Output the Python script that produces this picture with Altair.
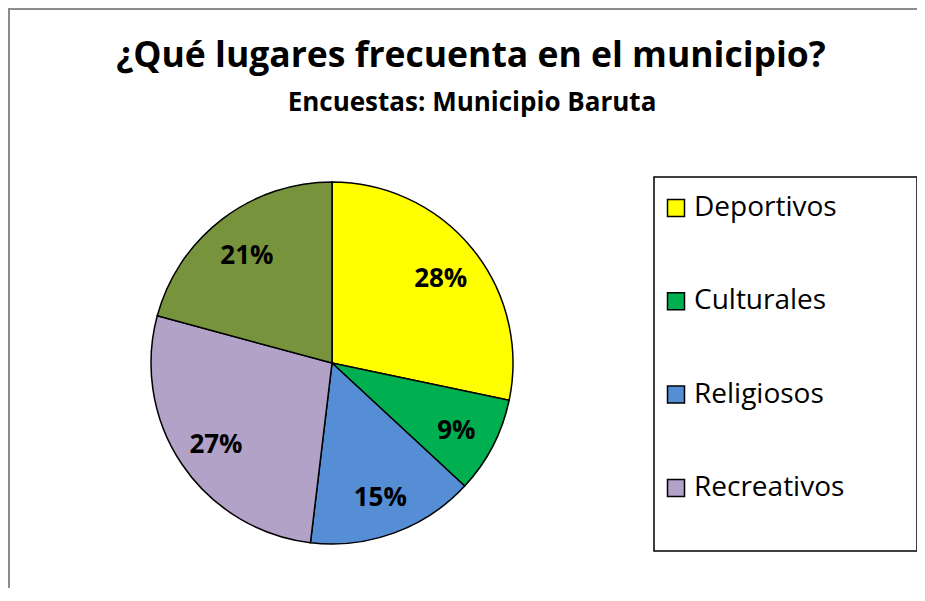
import altair as alt
import pandas as pd

# ---- data ----
categorias = ["Deportivos", "Culturales", "Religiosos", "Recreativos", "Otros"]
valores = [28.3, 8.6, 15.0, 27.3, 20.8]
etiquetas = ["28%", "9%", "15%", "27%", "21%"]
colores = ["#FFFF00", "#00B050", "#558ED5", "#B3A2C7", "#77933C"]
leyenda = ["Deportivos", "Culturales", "Religiosos", "Recreativos"]

titulo = "¿Qué lugares frecuenta en el municipio?"
subtitulo = "Encuestas: Municipio Baruta"

W, H = 909, 580
CX, CY, R = 324, 355, 181
FONT = "Open Sans"

df = pd.DataFrame({
    "categoria": categorias,
    "valor": valores,
    "etiqueta": etiquetas,
    "orden": list(range(len(categorias))),
})

color = alt.Color(
    "categoria:N",
    scale=alt.Scale(domain=categorias, range=colores),
    legend=alt.Legend(
        values=leyenda,
        title=None,
        orient="none",
        legendX=654,
        legendY=186,
        padding=0,
        symbolType="square",
        symbolSize=289,
        symbolStrokeColor="black",
        symbolStrokeWidth=1.5,
        labelFont=FONT,
        labelFontSize=28,
        labelColor="black",
        labelOffset=4,
        labelLimit=300,
        rowPadding=65.3,
    ),
)

base = alt.Chart(df).encode(
    theta=alt.Theta("valor:Q", stack=True),
    order=alt.Order("orden:Q"),
)

pie = base.mark_arc(outerRadius=R, stroke="black", strokeWidth=1.5).encode(
    color=color,
    x=alt.value(CX),
    y=alt.value(CY),
)

labels = base.mark_text(
    radius=140, font=FONT, fontSize=26, fontWeight="bold", color="black", dy=4
).encode(
    text="etiqueta:N",
    detail="categoria:N",
    x=alt.value(CX),
    y=alt.value(CY),
)

one = pd.DataFrame({"t": [titulo], "s": [subtitulo]})

title_txt = alt.Chart(one).mark_text(
    font=FONT, fontSize=35.5, fontWeight="bold", color="black",
    align="center", baseline="alphabetic",
).encode(text="t:N", x=alt.value(463), y=alt.value(59))

sub_txt = alt.Chart(one).mark_text(
    font=FONT, fontSize=26, fontWeight="bold", color="black",
    align="center", baseline="alphabetic",
).encode(text="s:N", x=alt.value(464), y=alt.value(103))

legend_box = alt.Chart(one).mark_rect(
    fill="white", stroke="black", strokeWidth=1.5
).encode(
    x=alt.value(646), x2=alt.value(909), y=alt.value(169), y2=alt.value(543)
)

border_left = alt.Chart(one).mark_rule(color="#8C8C8C", strokeWidth=2).encode(
    x=alt.value(1), y=alt.value(0), y2=alt.value(H)
)
border_top = alt.Chart(one).mark_rule(color="#8C8C8C", strokeWidth=2).encode(
    y=alt.value(1), x=alt.value(0), x2=alt.value(W)
)

chart = alt.layer(
    border_left, border_top, legend_box, pie, labels, title_txt, sub_txt
).properties(
    width=W,
    height=H,
    padding=0,
    autosize=alt.AutoSizeParams(type="none"),
    background="white",
).configure_view(strokeWidth=0)

chart.save("out.html", embed_options={"renderer": "svg", "actions": False})
